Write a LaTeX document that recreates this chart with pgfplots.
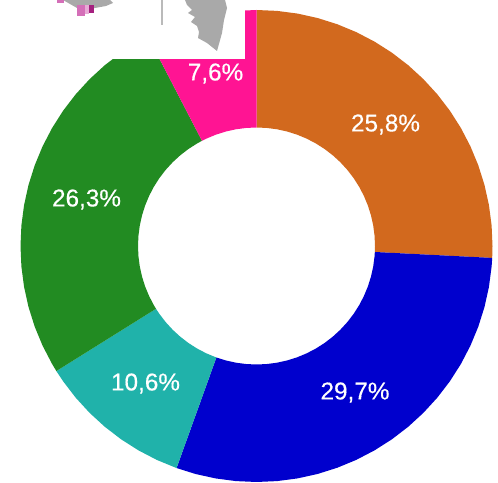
\documentclass[border=0pt]{standalone}
\usepackage{fontspec}
\setmainfont{Liberation Sans}
\newfontfamily\labf[FakeBold=0.4]{Liberation Sans}
\usepackage{pgfplots}
\pgfplotsset{compat=1.18}
\definecolor{cOrange}{HTML}{D2691E}
\definecolor{cBlue}{HTML}{0000CD}
\definecolor{cTeal}{HTML}{20B2AA}
\definecolor{cGreen}{HTML}{228B22}
\definecolor{cPink}{HTML}{FF1493}
\definecolor{cGrey}{HTML}{A9A9A9}
\tikzset{lab/.style={text=white,font=\labf\fontsize{24.4}{24.4}\selectfont,inner sep=0pt,anchor=center}}
\begin{document}
\begin{tikzpicture}
\begin{axis}[x=1bp,y=1bp,xmin=-256.5,xmax=241.5,ymin=-237,ymax=246,hide axis,clip=true,scale only axis]
\addplot[fill=white,draw=none,forget plot] coordinates {(-256.5,-237)(241.5,-237)(241.5,246)(-256.5,246)} -- cycle;
% orange 25.8
\addplot[data cs=polar,fill=cOrange,draw=none,forget plot] coordinates {
(90,236)(85,236)(80,236)(75,236)(70,236)(65,236)(60,236)(55,236)(50,236)(45,236)(40,236)(35,236)(30,236)(25,236)(20,236)(15,236)(10,236)(5,236)(0,236)(-2.9,236)
(-2.9,118.5)(0,118.5)(5,118.5)(10,118.5)(15,118.5)(20,118.5)(25,118.5)(30,118.5)(35,118.5)(40,118.5)(45,118.5)(50,118.5)(55,118.5)(60,118.5)(65,118.5)(70,118.5)(75,118.5)(80,118.5)(85,118.5)(90,118.5)} -- cycle;
% blue 29.7
\addplot[data cs=polar,fill=cBlue,draw=none,forget plot] coordinates {
(-2.9,236)(-5,236)(-10,236)(-15,236)(-20,236)(-25,236)(-30,236)(-35,236)(-40,236)(-45,236)(-50,236)(-55,236)(-60,236)(-65,236)(-70,236)(-75,236)(-80,236)(-85,236)(-90,236)(-95,236)(-100,236)(-105,236)(-109.8,236)
(-109.8,118.5)(-105,118.5)(-100,118.5)(-95,118.5)(-90,118.5)(-85,118.5)(-80,118.5)(-75,118.5)(-70,118.5)(-65,118.5)(-60,118.5)(-55,118.5)(-50,118.5)(-45,118.5)(-40,118.5)(-35,118.5)(-30,118.5)(-25,118.5)(-20,118.5)(-15,118.5)(-10,118.5)(-5,118.5)(-2.9,118.5)} -- cycle;
% teal 10.6
\addplot[data cs=polar,fill=cTeal,draw=none,forget plot] coordinates {
(-109.8,236)(-115,236)(-120,236)(-125,236)(-130,236)(-135,236)(-140,236)(-145,236)(-148,236)
(-148,118.5)(-145,118.5)(-140,118.5)(-135,118.5)(-130,118.5)(-125,118.5)(-120,118.5)(-115,118.5)(-109.8,118.5)} -- cycle;
% green 26.3
\addplot[data cs=polar,fill=cGreen,draw=none,forget plot] coordinates {
(-148,236)(-150,236)(-155,236)(-160,236)(-165,236)(-170,236)(-175,236)(-180,236)(-185,236)(-190,236)(-195,236)(-200,236)(-205,236)(-210,236)(-215,236)(-220,236)(-225,236)(-230,236)(-235,236)(-240,236)(-242.6,236)
(-242.6,118.5)(-240,118.5)(-235,118.5)(-230,118.5)(-225,118.5)(-220,118.5)(-215,118.5)(-210,118.5)(-205,118.5)(-200,118.5)(-195,118.5)(-190,118.5)(-185,118.5)(-180,118.5)(-175,118.5)(-170,118.5)(-165,118.5)(-160,118.5)(-155,118.5)(-150,118.5)(-148,118.5)} -- cycle;
% pink 7.6
\addplot[data cs=polar,fill=cPink,draw=none,forget plot] coordinates {
(117.4,236)(115,236)(110,236)(105,236)(100,236)(95,236)(90,236)
(90,118.5)(95,118.5)(100,118.5)(105,118.5)(110,118.5)(115,118.5)(117.4,118.5)} -- cycle;
% white inset over the top left
\addplot[fill=white,draw=none,forget plot] coordinates {(-256.5,246)(-11.5,246)(-11.5,186.5)(-256.5,186.5)} -- cycle;
% map fragments
\addplot[fill=cGrey,draw=none,forget plot] coordinates {(-71.5,246)(-69.5,241)(-64.5,236)(-68.5,233)(-61.5,229)(-65.5,224)(-59.5,220)(-57.5,214)(-58.5,208)(-49.5,203)(-39.5,195)(-34.5,213)(-32.5,226)(-29.5,238)(-31.5,246)} -- cycle;
\addplot[fill=cGrey!80,draw=none,forget plot] coordinates {(-95.5,246)(-93.5,246)(-93.5,221)(-95.5,221)} -- cycle;
\addplot[fill=cGrey,draw=none,forget plot] coordinates {(-193.5,246)(-146.5,246)(-143.5,243)(-150.5,240)(-161.5,238)(-172.5,236)(-178.5,233)(-179.5,238)(-186.5,242)} -- cycle;
\addplot[fill={rgb,255:red,212;green,111;blue,184},draw=none,forget plot] coordinates {(-199.5,246)(-193,246)(-193,242.5)(-199.5,242.5)} -- cycle;
\addplot[fill={rgb,255:red,212;green,111;blue,184},draw=none,forget plot] coordinates {(-179.5,241)(-171.5,241)(-171.5,230)(-179.5,230)} -- cycle;
\addplot[fill={rgb,255:red,232;green,170;blue,214},draw=none,forget plot] coordinates {(-171.5,241)(-167.5,241)(-167.5,232)(-171.5,232)} -- cycle;
\addplot[fill={rgb,255:red,165;green,32;blue,127},draw=none,forget plot] coordinates {(-167.5,241)(-162.5,241)(-162.5,233)(-167.5,233)} -- cycle;
\node[lab] at (axis cs:129,121.5) {25,8\%};
\node[lab] at (axis cs:98.5,-146.5) {29,7\%};
\node[lab] at (axis cs:-111,-137.5) {10,6\%};
\node[lab] at (axis cs:-170,46.5) {26,3\%};
\node[lab] at (axis cs:-41,172.5) {7,6\%};
\end{axis}
\end{tikzpicture}
\end{document}
